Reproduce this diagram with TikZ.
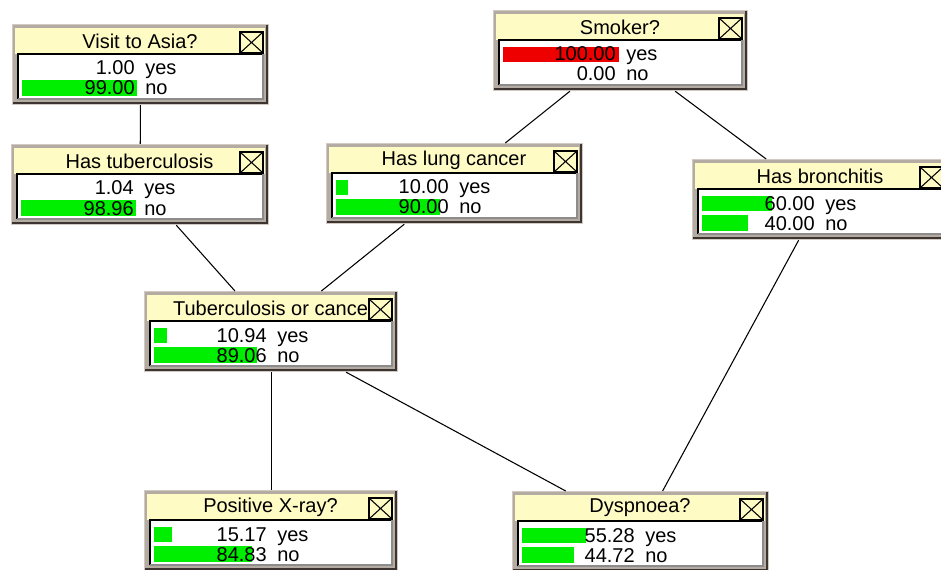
\documentclass[tikz,border=0pt]{standalone}
\usepackage{fontspec}
\setmainfont{Liberation Sans}
\definecolor{frame}{HTML}{B4ABA3}
\definecolor{frameedge}{HTML}{D2CAC2}
\definecolor{frameshadow}{HTML}{3C3430}
\definecolor{titlebg}{HTML}{FFFBC4}
\definecolor{bargreen}{HTML}{00EE00}
\definecolor{barred}{HTML}{EE0000}
\tikzset{
  bnframe/.style={draw=frameedge, fill=frame, line width=0.9pt, rectangle, inner sep=0pt, anchor=north west},
  link/.style={draw=black, line width=0.8pt},
  txt/.style={inner sep=0pt, font=\fontsize{15}{17}\selectfont},
}
% #1 name, #2 x0, #3 y0, #4 W, #5 title, #6 p_yes, #7 p_no, #8 colour of the yes bar
\newcommand\bnbox[8]{%
  \node[bnframe, minimum width={#4*0.75pt}, minimum height={80*0.75pt}] (#1) at (#2,#3) {};
  \draw[frameshadow, line width=1.6pt] ({#2+1},{#3+79}) -- ({#2+#4-1},{#3+79}) -- ({#2+#4-1},{#3+1});
  \fill[titlebg] ({#2+3},{#3+4}) rectangle ({#2+#4-3},{#3+30});
  \fill[white] ({#2+6},{#3+30}) rectangle ({#2+#4-5},{#3+75});
  \draw[black, line width=1.2pt] ({#2+6},{#3+75}) -- ({#2+6},{#3+30}) -- ({#2+#4-5},{#3+30});
  \draw[black!45, line width=0.9pt] ({#2+6},{#3+75}) -- ({#2+#4-5},{#3+75}) -- ({#2+#4-5},{#3+30});
  \node[txt] (#1-title) at ({#2+#4/2},{#3+17}) {#5};
  \draw[black, line width=0.8pt, fill=titlebg] ({#2+#4-28},{#3+8}) rectangle ({#2+#4-5},{#3+29});
  \draw[black, line width=0.8pt] ({#2+#4-28},{#3+8}) -- ({#2+#4-5},{#3+29}) ({#2+#4-28},{#3+29}) -- ({#2+#4-5},{#3+8});
  \pgfmathsetmacro\bnwa{#6<2 ? 0 : 1.16*#6}%
  \pgfmathsetmacro\bnwb{#7<2 ? 0 : 1.16*#7}%
  \ifdim\bnwa pt>0pt \fill[#8] ({#2+10},{#3+37}) rectangle ({#2+10+\bnwa},{#3+52});\fi
  \ifdim\bnwb pt>0pt \fill[bargreen] ({#2+10},{#3+56}) rectangle ({#2+10+\bnwb},{#3+72});\fi
  \node[txt, anchor=base east] (#1-v1) at ({#2+123},{#3+51}) {#6};
  \node[txt, anchor=base west] (#1-l1) at ({#2+133},{#3+51}) {yes};
  \node[txt, anchor=base east] (#1-v2) at ({#2+123},{#3+71}) {#7};
  \node[txt, anchor=base west] (#1-l2) at ({#2+133},{#3+71}) {no};
}
\begin{document}
\begin{tikzpicture}[x=0.75pt,y=-0.75pt]
\useasboundingbox (0,0) rectangle (941,570);
\clip (0,0) rectangle (941,570);
\fill[white] (0,0) rectangle (941,570);
\bnbox{visit}{12}{24}{256}{Visit to Asia?}{1.00}{99.00}{bargreen}
\bnbox{tb}{11}{144}{257}{Has tuberculosis}{1.04}{98.96}{bargreen}
\bnbox{smoke}{493}{10}{254}{Smoker?}{100.00}{0.00}{barred}
\bnbox{lung}{326}{143}{256}{Has lung cancer}{10.00}{90.00}{bargreen}
\bnbox{bronc}{692}{159}{256}{Has bronchitis}{60.00}{40.00}{bargreen}
\bnbox{either}{144}{291}{253}{Tuberculosis or cance}{10.94}{89.06}{bargreen}
\bnbox{xray}{144}{490}{253}{Positive X-ray?}{15.17}{84.83}{bargreen}
\bnbox{dysp}{512}{491}{256}{Dyspnoea?}{55.28}{44.72}{bargreen}
\draw[link] (visit) -- (tb);
\draw[link] (tb) -- (either);
\draw[link] (lung) -- (either);
\draw[link] (smoke) -- (lung);
\draw[link] (smoke) -- (bronc);
\draw[link] (bronc) -- (dysp);
\draw[link] (either) -- (xray);
\draw[link] (either) -- (dysp);
\end{tikzpicture}
\end{document}
